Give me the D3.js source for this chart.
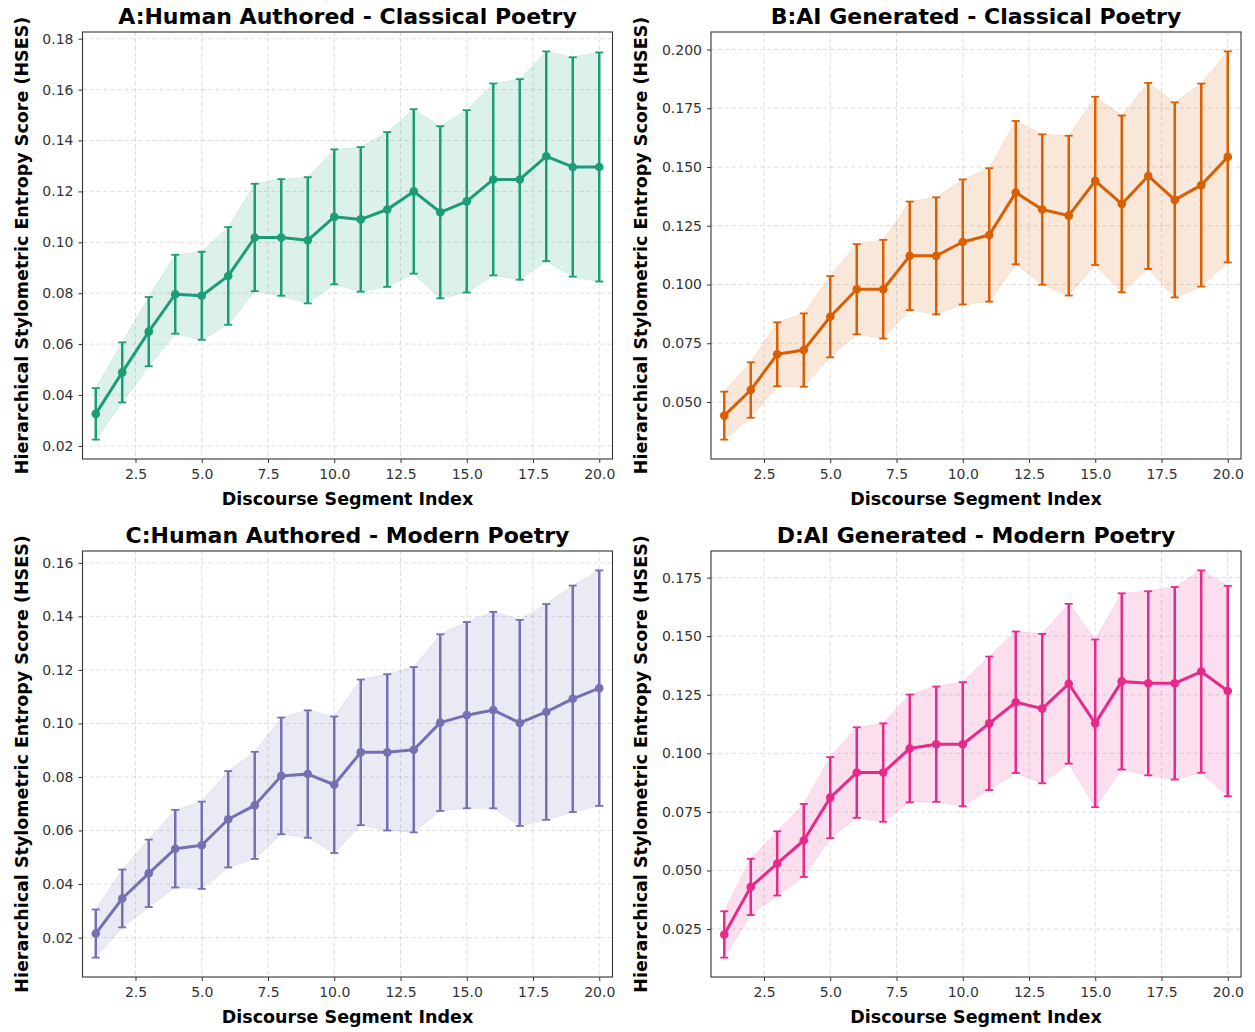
<!DOCTYPE html>
<html>
<head>
<meta charset="utf-8">
<script src="https://cdn.jsdelivr.net/npm/d3@7"></script>
<style>
  html, body { margin: 0; padding: 0; background: #fff; }
  svg { display: block; }
</style>
</head>
<body>
<svg id="chart" width="1255" height="1032"></svg>
<script>
// ---------------- DATA ----------------
const segments = d3.range(1, 21);

const titles = [
  "A:Human Authored - Classical Poetry",
  "B:AI Generated - Classical Poetry",
  "C:Human Authored - Modern Poetry",
  "D:AI Generated - Modern Poetry"
];

const colors = ["#1b9e77", "#d95f02", "#7570b3", "#e7298a"];

const meanA = [0.0326,0.0489,0.0649,0.0796,0.0790,0.0868,0.1019,0.1019,0.1008,0.1100,
               0.1090,0.1129,0.1200,0.1118,0.1161,0.1247,0.1247,0.1338,0.1296,0.1296];
const stdA  = [0.0101,0.0118,0.0136,0.0155,0.0173,0.0192,0.0211,0.0229,0.0248,0.0265,
               0.0284,0.0304,0.0323,0.0338,0.0358,0.0377,0.0394,0.0412,0.0431,0.0450];

const meanB = [0.0442,0.0551,0.0703,0.0721,0.0863,0.0980,0.0980,0.1122,0.1122,0.1181,
               0.1211,0.1391,0.1319,0.1293,0.1441,0.1343,0.1462,0.1360,0.1423,0.1543];
const stdB  = [0.0102,0.0118,0.0136,0.0156,0.0173,0.0192,0.0210,0.0231,0.0249,0.0266,
               0.0284,0.0305,0.0320,0.0340,0.0358,0.0376,0.0396,0.0415,0.0432,0.0449];

const meanC = [0.0215,0.0346,0.0440,0.0532,0.0545,0.0642,0.0694,0.0804,0.0811,0.0771,
               0.0892,0.0892,0.0902,0.1003,0.1031,0.1050,0.1002,0.1043,0.1092,0.1132];
const stdC  = [0.0090,0.0108,0.0126,0.0145,0.0163,0.0180,0.0200,0.0218,0.0238,0.0255,
               0.0272,0.0292,0.0309,0.0330,0.0348,0.0367,0.0385,0.0403,0.0423,0.0440];

const meanD = [0.0227,0.0430,0.0530,0.0628,0.0811,0.0918,0.0918,0.1021,0.1039,0.1039,
               0.1128,0.1218,0.1191,0.1297,0.1128,0.1307,0.1299,0.1299,0.1349,0.1266];
const stdD  = [0.0099,0.0120,0.0137,0.0156,0.0173,0.0193,0.0210,0.0230,0.0246,0.0265,
               0.0285,0.0302,0.0319,0.0341,0.0358,0.0376,0.0393,0.0411,0.0432,0.0449];

const xTicks = [2.5, 5.0, 7.5, 10.0, 12.5, 15.0, 17.5, 20.0];
const yTicksA = [0.02,0.04,0.06,0.08,0.10,0.12,0.14,0.16,0.18];
const yTicksB = [0.050,0.075,0.100,0.125,0.150,0.175,0.200];
const yTicksC = [0.02,0.04,0.06,0.08,0.10,0.12,0.14,0.16];
const yTicksD = [0.025,0.050,0.075,0.100,0.125,0.150,0.175];

const xLabel = "Discourse Segment Index";
const yLabel = "Hierarchical Stylometric Entropy Score (HSES)";

// ---------------- LAYOUT ----------------
const panels = [
  { mean: meanA, std: stdA, yTicks: yTicksA, fmt: d3.format(".2f"), left: 82.5, top: 32,  right: 612.5, bottom: 459, ylOff: 55 },
  { mean: meanB, std: stdB, yTicks: yTicksB, fmt: d3.format(".3f"), left: 711,  top: 32,  right: 1241,  bottom: 459, ylOff: 64 },
  { mean: meanC, std: stdC, yTicks: yTicksC, fmt: d3.format(".2f"), left: 82.5, top: 551, right: 612.5, bottom: 977, ylOff: 55 },
  { mean: meanD, std: stdD, yTicks: yTicksD, fmt: d3.format(".3f"), left: 711,  top: 551, right: 1241,  bottom: 977, ylOff: 64 }
];

const svg = d3.select("#chart");
const FONT = "'DejaVu Sans', sans-serif";

panels.forEach((p, i) => {
  const color = colors[i];
  const w = p.right - p.left, h = p.bottom - p.top;
  const g = svg.append("g").attr("transform", `translate(${p.left},${p.top})`);

  const rows = segments.map((s, k) => ({ x: s, m: p.mean[k], lo: p.mean[k] - p.std[k], hi: p.mean[k] + p.std[k] }));
  const ymin = d3.min(rows, d => d.lo), ymax = d3.max(rows, d => d.hi);
  const pad = (ymax - ymin) * 0.05;

  const x = d3.scaleLinear().domain([0.5, 20.5]).range([0, w]);
  const y = d3.scaleLinear().domain([ymin - pad, ymax + pad]).range([h, 0]);

  // grid
  g.append("g").selectAll("line").data(xTicks).join("line")
    .attr("x1", d => x(d)).attr("x2", d => x(d)).attr("y1", 0).attr("y2", h)
    .attr("stroke", "#b0b0b0").attr("stroke-opacity", 0.55).attr("stroke-width", 0.8).attr("stroke-dasharray", "4,3");
  g.append("g").selectAll("line").data(p.yTicks).join("line")
    .attr("y1", d => y(d)).attr("y2", d => y(d)).attr("x1", 0).attr("x2", w)
    .attr("stroke", "#b0b0b0").attr("stroke-opacity", 0.55).attr("stroke-width", 0.8).attr("stroke-dasharray", "4,3");

  // band
  g.append("path").datum(rows)
    .attr("d", d3.area().x(d => x(d.x)).y0(d => y(d.lo)).y1(d => y(d.hi)))
    .attr("fill", color).attr("fill-opacity", 0.15)
    .attr("stroke", color).attr("stroke-opacity", 0.12).attr("stroke-width", 1);

  // error bars
  const eb = g.append("g").attr("stroke", color).attr("stroke-width", 2.5);
  eb.selectAll("line.v").data(rows).join("line").attr("class", "v")
    .attr("x1", d => x(d.x)).attr("x2", d => x(d.x)).attr("y1", d => y(d.lo)).attr("y2", d => y(d.hi));
  eb.selectAll("line.capH").data(rows).join("line").attr("class", "capH")
    .attr("x1", d => x(d.x) - 4).attr("x2", d => x(d.x) + 4).attr("y1", d => y(d.hi)).attr("y2", d => y(d.hi)).attr("stroke-width", 1.8);
  eb.selectAll("line.capL").data(rows).join("line").attr("class", "capL")
    .attr("x1", d => x(d.x) - 4).attr("x2", d => x(d.x) + 4).attr("y1", d => y(d.lo)).attr("y2", d => y(d.lo)).attr("stroke-width", 1.8);

  // line
  g.append("path").datum(rows)
    .attr("d", d3.line().x(d => x(d.x)).y(d => y(d.m)))
    .attr("fill", "none").attr("stroke", color).attr("stroke-width", 3).attr("stroke-linejoin", "round");

  // markers
  g.append("g").selectAll("circle").data(rows).join("circle")
    .attr("cx", d => x(d.x)).attr("cy", d => y(d.m)).attr("r", 4.3).attr("fill", color);

  // axes
  const xAxis = g.append("g").attr("transform", `translate(0,${h})`)
    .call(d3.axisBottom(x).tickValues(xTicks).tickFormat(d3.format(".1f")).tickSizeOuter(0).tickSize(4).tickPadding(6));
  const yAxis = g.append("g")
    .call(d3.axisLeft(y).tickValues(p.yTicks).tickFormat(p.fmt).tickSizeOuter(0).tickSize(4).tickPadding(5));
  [xAxis, yAxis].forEach(a => {
    a.select(".domain").remove();
    a.selectAll("line").attr("stroke", "#333");
    a.selectAll("text").attr("font-family", FONT).attr("font-size", 14).attr("fill", "#333");
  });

  // frame
  g.append("rect").attr("x", 0).attr("y", 0).attr("width", w).attr("height", h)
    .attr("fill", "none").attr("stroke", "#333").attr("stroke-width", 1.1);

  // title
  svg.append("text").attr("x", p.left + w / 2).attr("y", p.top - 8)
    .attr("text-anchor", "middle").attr("font-family", FONT).attr("font-weight", "bold")
    .attr("font-size", 22).attr("fill", "#000").text(titles[i]);

  // x label
  svg.append("text").attr("x", p.left + w / 2).attr("y", p.bottom + 46)
    .attr("text-anchor", "middle").attr("font-family", FONT).attr("font-weight", "bold")
    .attr("font-size", 17.5).attr("fill", "#000").text(xLabel);

  // y label
  const ylx = p.left - p.ylOff;
  svg.append("text").attr("transform", `translate(${ylx},${p.top + h / 2}) rotate(-90)`)
    .attr("text-anchor", "middle").attr("font-family", FONT).attr("font-weight", "bold")
    .attr("font-size", 17.5).attr("fill", "#000").text(yLabel);
});
</script>
</body>
</html>
